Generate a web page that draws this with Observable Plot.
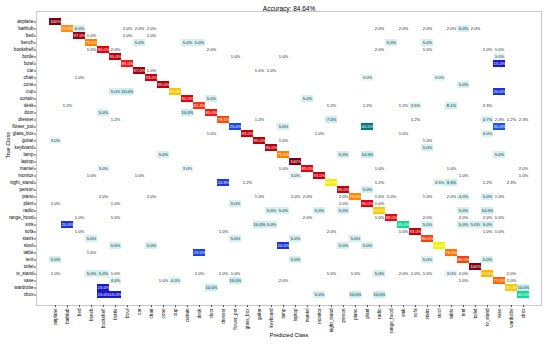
<!DOCTYPE html>
<html><head><meta charset="utf-8">
<script src="https://cdn.jsdelivr.net/npm/d3@7"></script>
<script src="https://cdn.jsdelivr.net/npm/@observablehq/plot@0.6"></script>
<style>body{margin:0;background:#fff} svg{display:block}</style>
</head><body><div id="chart"></div>
<script>
const classes = ["airplane","bathtub","bed","bench","bookshelf","bottle","bowl","car","chair","cone","cup","curtain","desk","door","dresser","flower_pot","glass_box","guitar","keyboard","lamp","laptop","mantel","monitor","night_stand","person","piano","plant","radio","range_hood","sink","sofa","stairs","stool","table","tent","toilet","tv_stand","vase","wardrobe","xbox"];

// per-class accuracy (%), diagonal
const diagonal = [100,72,97,75,90,95,85,97,93,95,65,90,81.4,85,79.1,25,93,95,95,75,100,89,93,60.5,95,74,90,65,88,45,93,80,60,76,80,100,67,77,65,45];

// off-diagonal confusions: [true class, predicted class, %]
const confusions = [
 ["bathtub","bed",6.0],["bathtub","bowl",2.0],["bathtub","car",2.0],["bathtub","chair",2.0],["bathtub","radio",2.0],["bathtub","sink",2.0],["bathtub","stairs",2.0],["bathtub","table",2.0],["bathtub","tent",6.0],["bathtub","toilet",2.0],
 ["bed","bench",1.0],["bed","bowl",1.0],["bed","chair",1.0],
 ["bench","car",5.0],["bench","curtain",5.0],["bench","desk",5.0],["bench","range_hood",5.0],["bench","stairs",5.0],
 ["bookshelf","bench",1.0],["bookshelf","bottle",2.0],["bookshelf","door",2.0],["bookshelf","radio",2.0],["bookshelf","stairs",1.0],["bookshelf","tv_stand",1.0],["bookshelf","vase",1.0],
 ["bottle","flower_pot",1.0],["bottle","lamp",1.0],["bottle","vase",3.0],
 ["bowl","vase",15.0],
 ["car","chair",1.0],["car","guitar",1.0],["car","keyboard",1.0],
 ["chair","bed",1.0],["chair","plant",3.0],["chair","stool",3.0],
 ["cone","tent",5.0],
 ["cup","bottle",5.0],["cup","bowl",10.0],["cup","vase",20.0],
 ["curtain","door",5.0],["curtain","mantel",5.0],
 ["desk","bathtub",1.2],["desk","night_stand",1.2],["desk","plant",1.2],["desk","sink",1.2],["desk","sofa",3.5],["desk","table",8.1],["desk","tv_stand",2.3],
 ["door","bookshelf",5.0],["door","curtain",10.0],
 ["dresser","bottle",1.2],["dresser","guitar",1.2],["dresser","night_stand",7.0],["dresser","sofa",1.2],["dresser","tv_stand",4.7],["dresser","vase",2.3],["dresser","wardrobe",1.2],["dresser","xbox",2.3],
 ["flower_pot","lamp",5.0],["flower_pot","plant",40.0],["flower_pot","vase",30.0],
 ["glass_box","door",1.0],["glass_box","monitor",1.0],["glass_box","sink",1.0],["glass_box","tv_stand",4.0],
 ["guitar","airplane",3.0],["guitar","lamp",1.0],["guitar","stairs",1.0],
 ["keyboard","stairs",5.0],
 ["lamp","cone",5.0],["lamp","person",5.0],["lamp","plant",10.0],["lamp","vase",5.0],
 ["mantel","bookshelf",3.0],["mantel","curtain",3.0],["mantel","lamp",1.0],["mantel","radio",1.0],["mantel","table",1.0],["mantel","xbox",2.0],
 ["monitor","bench",1.0],["monitor","car",1.0],["monitor","laptop",3.0],["monitor","tent",1.0],["monitor","xbox",1.0],
 ["night_stand","dresser",20.9],["night_stand","glass_box",1.2],["night_stand","radio",1.2],["night_stand","stool",3.5],["night_stand","table",9.3],["night_stand","tv_stand",1.2],["night_stand","wardrobe",2.3],
 ["person","plant",5.0],
 ["piano","bookshelf",2.0],["piano","chair",2.0],["piano","guitar",1.0],["piano","laptop",2.0],["piano","mantel",2.0],["piano","person",2.0],["piano","radio",1.0],["piano","range_hood",1.0],["piano","stairs",1.0],["piano","table",2.0],["piano","tent",4.0],["piano","tv_stand",5.0],["piano","vase",1.0],
 ["plant","airplane",1.0],["plant","bottle",1.0],["plant","flower_pot",5.0],["plant","person",2.0],["plant","radio",1.0],
 ["radio","keyboard",5.0],["radio","lamp",5.0],["radio","monitor",5.0],["radio","person",5.0],["radio","tent",5.0],["radio","tv_stand",10.0],
 ["range_hood","bed",1.0],["range_hood","bottle",1.0],["range_hood","mantel",2.0],["range_hood","radio",1.0],["range_hood","stairs",2.0],["range_hood","tent",2.0],["range_hood","tv_stand",2.0],["range_hood","vase",1.0],
 ["sink","bathtub",20.0],["sink","guitar",10.0],["sink","keyboard",5.0],["sink","stairs",5.0],["sink","tent",5.0],["sink","toilet",5.0],["sink","tv_stand",5.0],
 ["sofa","bed",1.0],["sofa","dresser",1.0],["sofa","night_stand",2.0],["sofa","sink",1.0],["sofa","tv_stand",1.0],["sofa","vase",1.0],
 ["stairs","bench",5.0],["stairs","flower_pot",5.0],["stairs","laptop",5.0],["stairs","piano",5.0],
 ["stool","bottle",5.0],["stool","chair",5.0],["stool","lamp",20.0],["stool","person",5.0],["stool","plant",5.0],
 ["table","bench",1.0],["table","desk",23.0],
 ["tent","airplane",5.0],["tent","laptop",5.0],["tent","stairs",5.0],["tent","tv_stand",5.0],
 ["tv_stand","airplane",1.0],["tv_stand","bench",5.0],["tv_stand","bookshelf",5.0],["tv_stand","bottle",1.0],["tv_stand","desk",1.0],["tv_stand","dresser",1.0],["tv_stand","flower_pot",1.0],["tv_stand","night_stand",1.0],["tv_stand","piano",1.0],["tv_stand","radio",5.0],["tv_stand","sink",2.0],["tv_stand","sofa",1.0],["tv_stand","stairs",1.0],["tv_stand","table",3.0],["tv_stand","tent",2.0],["tv_stand","wardrobe",2.0],
 ["vase","bottle",4.0],["vase","cone",1.0],["vase","cup",4.0],["vase","flower_pot",10.0],["vase","lamp",2.0],["vase","tent",1.0],["vase","wardrobe",1.0],
 ["wardrobe","bookshelf",15.0],["wardrobe","door",10.0],["wardrobe","xbox",10.0],
 ["xbox","bookshelf",15.0],["xbox","bottle",15.0],["xbox","monitor",5.0],["xbox","piano",10.0],["xbox","radio",10.0]
];

const title = "Accuracy: 84.64%";
const xLabel = "Predicted Class";
const yLabel = "True Class";

// colour map stops (% -> colour)
const colorStops = [0, 2.5, 3, 5, 10, 12, 15, 22, 30, 40, 45, 55, 60, 65, 72, 75, 80, 85, 90, 95, 100];
const colorRange = ["#ffffff","#ffffff","#e6f7f7","#d4f1f2","#c6edef","#8fb4ea","#1a1ac8","#1e3ee0","#1a5ae0","#007888","#10d890","#c8e820","#f4f000","#f8c800","#ff9010","#ff8000","#f84010","#f01818","#e00010","#b8000c","#800010"];

const cells = classes.map((c, i) => ({truth: c, pred: c, value: diagonal[i]}))
  .concat(confusions.map(([t, p, v]) => ({truth: t, pred: p, value: v})));
const fmt = v => v === 100 ? "100%" : v.toFixed(1) + "%";

const chart = Plot.plot({
  width: 550, height: 345,
  marginLeft: 36, marginRight: 9, marginTop: 11, marginBottom: 40,
  style: {fontFamily: "'Liberation Sans', Arial, sans-serif", background: "#fff"},
  x: {domain: classes, padding: 0, label: null},
  y: {domain: classes, padding: 0, label: null},
  color: {type: "linear", domain: colorStops, range: colorRange, interpolate: "rgb"},
  marks: [
    Plot.cell(cells, {x: "pred", y: "truth", fill: "value"}),
    Plot.text(cells.filter(d => d.value >= 12), {x: "pred", y: "truth", text: d => fmt(d.value), fill: "white", fontSize: 4.2}),
    Plot.text(cells.filter(d => d.value < 12), {x: "pred", y: "truth", text: d => fmt(d.value), fill: "#222", fontSize: 4.2}),
    Plot.frame({stroke: "#c8c8c8"}),
    Plot.axisX({anchor: "bottom", tickRotate: -90, tickSize: 2, tickPadding: 1, fontSize: 4.6, label: null, stroke: "#555"}),
    Plot.axisY({anchor: "left", tickSize: 2, tickPadding: 1, fontSize: 4.6, label: null, stroke: "#555"}),
    Plot.text([title], {frameAnchor: "top", dy: -5, fontSize: 6.5}),
    Plot.text([xLabel], {frameAnchor: "bottom", dy: 31, fontSize: 5.5}),
    Plot.text([yLabel], {frameAnchor: "left", dx: -28, rotate: -90, fontSize: 5.5})
  ]
});
document.getElementById("chart").append(chart);
</script>
</body></html>
